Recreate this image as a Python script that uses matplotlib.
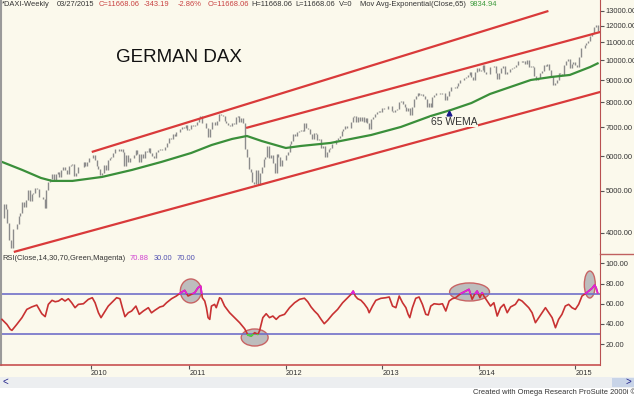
import numpy as np
import pandas as pd
import matplotlib
matplotlib.use("Agg")
import matplotlib.pyplot as plt
from matplotlib.patches import Ellipse, Rectangle
from matplotlib.lines import Line2D
from matplotlib.ticker import FixedLocator, NullLocator, FuncFormatter

plt.rcParams['font.family'] = ['Liberation Sans', 'DejaVu Sans']

# weekly DAX closes (Friday bars), one list per year
close_2009 = [4338, 4666, 4534, 4215, 3843, 3695, 4086, 4076, 4187, 4384, 4445, 4712,
              4597, 4769, 5022, 4738, 4929, 4940, 5077, 5052, 4840, 4838, 4781, 4576,
              5034, 5232, 5332, 5463, 5309, 5462, 5517, 5380, 5587, 5688, 5581, 5467,
              5711, 5743, 5758, 5415, 5490, 5688, 5663, 5686, 5817, 5709, 5831, 5957]
close_2010 = [5957, 6037, 5876, 5696, 5608, 5434, 5500, 5722, 5598, 5877, 5945, 5983,
              6120, 6235, 6250, 6180, 6259, 6135, 5716, 6056, 5830, 5946, 5938, 6050,
              6216, 6070, 5834, 6066, 5954, 6183, 6148, 6291, 6110, 6005, 5951, 6147,
              6215, 6250, 6208, 6211, 6304, 6432, 6612, 6601, 6754, 6703, 6822, 6849,
              6947, 7006, 6983, 7077, 6914]
close_2011 = [6948, 7076, 7062, 7102, 7216, 7371, 7426, 7185, 7178, 6982, 6664, 6947,
              7190, 7217, 7080, 7250, 7514, 7492, 7449, 7258, 7185, 7095, 7069, 7164,
              7121, 7419, 7420, 7220, 7344, 7159, 6236, 5997, 5602, 5537, 5246, 5189,
              5574, 5164, 5502, 5676, 5911, 5970, 6346, 5966, 6057, 5800, 5493, 6080,
              5987, 5702, 5878, 5898]
close_2012 = [6057, 6143, 6404, 6512, 6766, 6692, 6849, 6864, 6921, 6881, 7157, 6996,
              6947, 6775, 6583, 6801, 6762, 6562, 6579, 6271, 6339, 5978, 6130, 6229,
              6263, 6416, 6410, 6557, 6630, 6689, 6865, 6945, 7040, 6972, 6970, 7214,
              7412, 7451, 7216, 7398, 7233, 7380, 7203, 7363, 7163, 6950, 7309, 7405,
              7518, 7614, 7636, 7612]
close_2013 = [7776, 7715, 7702, 7857, 7833, 7652, 7593, 7661, 7708, 8004, 8059, 7913,
              7795, 7659, 7744, 7459, 7814, 8122, 8279, 8398, 8305, 8349, 8254, 8128,
              7789, 7959, 7806, 8212, 8331, 8403, 8410, 8368, 8391, 8416, 8104, 8275,
              8510, 8676, 8661, 8638, 8725, 8870, 9018, 9007, 9079, 9169, 9225, 9406,
              9173, 9006, 9400, 9589]
close_2014 = [9435, 9473, 9742, 9393, 9306, 9301, 9663, 9657, 9692, 9351, 9056, 9342,
              9588, 9695, 9315, 9409, 9402, 9556, 9581, 9630, 9768, 9943, 9987, 9912,
              9987, 9815, 10009, 9666, 9720, 9644, 9210, 9009, 9092, 9339, 9470, 9747,
              9691, 9799, 9490, 9195, 8788, 8850, 8988, 9326, 9291, 9252, 9732, 9980,
              10087, 9594, 9787, 9922]
close_2015 = [9764, 9648, 10167, 10649, 10694, 10846, 10963, 11050, 11401, 11551,
              11901, 12039, 11668]

# 65 week exponential average (week index, value)
ema_week = [0, 11, 21, 27, 38, 54, 70, 86, 102, 113, 124, 132, 140, 153, 161, 177,
            199, 215, 231, 242, 253, 263, 274, 285, 296, 306, 317, 321]
ema_val = [5830, 5585, 5354, 5270, 5270, 5383, 5585, 5830, 6113, 6377, 6585, 6690,
           6513, 6277, 6344, 6446, 6726, 7019, 7437, 7681, 7970, 8361, 8678, 9006,
           9150, 9250, 9650, 9835]

# RSI(14)
rsi_week = [0, 2.7, 4.5, 5.4, 8, 10.8, 13.4, 16, 18.8, 21.5, 23.3, 25, 27, 28.7, 30.5,
            32.3, 34, 35.8, 37.6, 39.4, 41.2, 43.9, 46.6, 48.7, 50.2, 52, 53.4, 55.6,
            57.3, 60, 61.8, 63.6, 64.9, 66.3, 68.1, 69.9, 72.2, 74, 76.2, 78.9, 80.6,
            82.4, 85.1, 86.9, 88.7, 91.4, 94, 96.4, 98.5, 100.3, 102.1, 103.9, 105.7,
            107.1, 108, 109.3, 110.2, 111.1, 112, 112.9, 114.6, 115.5, 117.3, 118.2,
            120, 122.7, 125.4, 128.1, 130.8, 132.6, 134.4, 136.2, 137.9, 138.8, 140.6,
            142.4, 144.2, 146, 147.8, 149.6, 152.3, 155, 157.7, 160.4, 163, 164.8,
            166.6, 168.4, 170.2, 172, 173.7, 175.5, 178.2, 180.9, 183.6, 186.3, 188.1,
            189.3, 190.4, 191.7, 193.5, 195.2, 197, 197.9, 199.7, 201.5, 204.2, 206.9,
            208.7, 210.5, 212.3, 214.1, 215.9, 217.7, 218.9, 219.8, 221.2, 223, 224.8,
            226.6, 228.4, 229.7, 231.1, 232.9, 235.6, 237.4, 239.2, 241, 242.7, 244.5,
            247.2, 249.9, 251.7, 253.4, 254.7, 256.1, 257.6, 258.8, 259.7, 261.5,
            263.3, 265.1, 266.9, 268.7, 270.5, 272.3, 274.1, 276.7, 278.5, 280.3,
            282.1, 283.9, 285.7, 287.5, 289.3, 291.1, 292.9, 294.7, 296.5, 298.3, 300,
            301.8, 303.6, 305.4, 307.2, 309, 310.8, 312.6, 314.4, 316.2, 318, 319.4,
            320.2, 321]
rsi_val = [44.5, 39.5, 34.6, 33.6, 39.5, 46.2, 54.4, 56.8, 58.7, 50.1, 47.2, 59.4, 63.4,
           62, 62.7, 65, 62.7, 65, 61, 56.1, 59.4, 60, 64.4, 66, 61, 51.1, 46.2, 52.8,
           57.7, 62.7, 66, 65, 56.1, 47.2, 51.1, 52.8, 57.7, 49.5, 52.8, 56.1, 51,
           53.5, 56.8, 57.7, 61, 65, 67.7, 71, 73.3, 67.7, 69.3, 71, 76, 77.6, 66,
           62.7, 56.1, 46.2, 44.5, 57.7, 59.4, 56.1, 66, 65, 57.7, 51.1, 46.2, 41.2,
           35.2, 28.9, 28, 31.3, 29.6, 32.9, 46.2, 50.1, 46.2, 47.8, 44.5, 47.8, 49.5,
           56.1, 61, 64.4, 65.5, 62, 56.8, 52.8, 49.5, 44.5, 40.2, 43.5, 49.5, 54.4,
           61, 66, 69.3, 72.6, 67.7, 65, 63.4, 60, 55.4, 51.1, 57.7, 63.4, 65.4, 66,
           66.7, 57.7, 56.1, 67.7, 61, 56.1, 49.5, 46.2, 56.1, 65.4, 66.7, 59.4, 49.5,
           48.8, 57.7, 60, 59.4, 60, 52.8, 62.7, 65, 66, 70, 72.6, 74.3, 64.4, 69.3,
           72.6, 66, 71, 67.7, 62.7, 57.7, 61, 47.8, 56.1, 59.4, 51.1, 56.8, 59.4,
           64.4, 62.7, 59.4, 56.1, 51.1, 41.2, 46.2, 51.1, 56.1, 51.1, 46.2, 36.2,
           44.5, 49.5, 57.7, 59.4, 56.1, 54.4, 59.4, 67.7, 70, 72.6, 75.3, 78.6, 76,
           70.9]

# trend channel end points (week index, price)
channel_top = ([48.4, 294.5], [6145, 12993])
channel_mid = ([131.6, 322.4], [6982, 11620])
channel_low = ([6.4, 322.4], [3614, 8452])

# highlighted RSI zones: centre week, centre value, width (weeks), height
rsi_zones = [(101.8, 72.7, 11.3, 23.8), (136.2, 26.5, 14.5, 16.9),
             (252.0, 71.7, 21.5, 17.9), (316.8, 79.1, 5.9, 26.8)]

wema_label = (240.7, 7560)
price_ticks = [4000, 5000, 6000, 7000, 8000, 9000, 10000, 11000, 12000, 13000]
rsi_ticks = [20, 40, 60, 80, 100]
year_labels = [2010, 2011, 2012, 2013, 2014, 2015]

dates = pd.date_range("2009-01-30", "2015-03-27", freq="W-FRI")
closes = np.array(close_2009 + close_2010 + close_2011 + close_2012 +
                  close_2013 + close_2014 + close_2015, dtype=float)
assert len(closes) == len(dates)
x = np.arange(len(closes))
prev = np.r_[closes[0], closes[:-1]]
year_weeks = [int(np.argmax(dates.year == y)) for y in year_labels]

BG = '#fbf9ec'
W, H = 634, 397
SMALL = 5.4


def box(l, t, r, b):
    return [l / W, 1 - b / H, (r - l) / W, (b - t) / H]


def ftext(px, py, s, **kw):
    fig.text(px / W, 1 - py / H, s, **kw)


fig = plt.figure(figsize=(W / 100, H / 100), dpi=100, facecolor=BG)
ax = fig.add_axes(box(1, 0, 600, 254), facecolor=BG)
ax2 = fig.add_axes(box(1, 254, 600, 365), facecolor=BG)
xlim = (-0.5, 322.3)

# price panel
ax.set_yscale('log')
ax.set_ylim(3575, 13772)
ax.set_xlim(*xlim)
ax.vlines(x, np.minimum(prev, closes), np.maximum(prev, closes), color='#8c8c8c', lw=1.0)
ax.plot(ema_week, ema_val, color='#3a8f3a', lw=1.6)
for cx, cy in (channel_top, channel_mid, channel_low):
    ax.plot(cx, cy, color='#d93a3a', lw=1.6, solid_capstyle='butt')
ax.plot(*wema_label, marker='^', color='#1a1a8c', ms=3.5)

ax.yaxis.tick_right()
ax.yaxis.set_major_locator(FixedLocator(price_ticks))
ax.yaxis.set_minor_locator(NullLocator())
ax.yaxis.set_major_formatter(FuncFormatter(lambda v, p: f"{v:.2f}"))
ax.set_xticks([])
for a in (ax, ax2):
    a.tick_params(axis='y', direction='out', length=3, width=0.8, color='#555555',
                  labelsize=SMALL, labelcolor='#333333', pad=1)
    a.spines['top'].set_visible(False)
    a.spines['left'].set_color('#9a9a9a')
    a.spines['left'].set_linewidth(1.5)
    a.spines['right'].set_color('#b85050')
ax.spines['bottom'].set_visible(False)

# RSI panel
ax2.set_xlim(*xlim)
ax2.set_ylim(-0.8, 109.4)
ax2.axhline(70, color='#7070c8', lw=1.2)
ax2.axhline(30, color='#7070c8', lw=1.2)
for zx, zy, zw, zh in rsi_zones:
    ax2.add_patch(Ellipse((zx, zy), zw, zh, facecolor='#bdbdbd', edgecolor='#c86464',
                          lw=1, zorder=1.5))
ax2.plot(rsi_week, rsi_val, color='#c83232', lw=1.2, zorder=3)
hi, = ax2.plot(rsi_week, rsi_val, color='#e020e0', lw=1.2, zorder=4)
hi.set_clip_path(Rectangle((xlim[0], 70), xlim[1] - xlim[0], 40, transform=ax2.transData))
lo, = ax2.plot(rsi_week, rsi_val, color='#40e040', lw=1.2, zorder=4)
lo.set_clip_path(Rectangle((xlim[0], 0), xlim[1] - xlim[0], 30, transform=ax2.transData))

ax2.yaxis.tick_right()
ax2.set_yticks(rsi_ticks)
ax2.yaxis.set_major_formatter(FuncFormatter(lambda v, p: f"{v:.2f}"))
ax2.set_xticks(year_weeks)
ax2.set_xticklabels([str(y) for y in year_labels])
for lbl in ax2.get_xticklabels():
    lbl.set_horizontalalignment('left')
ax2.tick_params(axis='x', direction='out', length=3, width=0.8, color='#555555',
                labelsize=SMALL, labelcolor='#333333', pad=0.5)
ax2.spines['bottom'].set_color('#c85050')
ax2.spines['bottom'].set_linewidth(1.2)

# panel separator in the scale area
fig.add_artist(Line2D([600 / W, 1], [1 - 254 / H] * 2, color='#c06060', lw=1))

# titles and header lines
ftext(179, 58, "GERMAN DAX", ha='center', va='center', fontsize=13.5, color='#111111')
ftext(454, 122, "65 WEMA", ha='center', va='center', fontsize=7.5, color='#333333',
      bbox=dict(facecolor=BG, edgecolor='none', pad=0.3))

hdr = [(2, "*DAXI-Weekly", '#333333'), (57, "03/27/2015", '#333333'),
       (99, "C=11668.06", '#c84040'), (144, "-343.19", '#c84040'),
       (178, "-2.86%", '#c84040'), (208, "O=11668.06", '#c84040'),
       (251, "H=11668.06", '#333333'), (295, "L=11668.06", '#333333'),
       (339, "V=0", '#333333'), (360, "Mov Avg-Exponential(Close,65)", '#333333'),
       (470, "9834.94", '#3c9a3c')]
for hx, s, c in hdr:
    ftext(hx, 5, s, ha='left', va='center', fontsize=SMALL, color=c)

rsi_hdr = [(2, "RSI(Close,14,30,70,Green,Magenta)", '#333333'), (130, "70.88", '#d040d0'),
           (154, "30.00", '#5050b0'), (177, "70.00", '#5050b0')]
for hx, s, c in rsi_hdr:
    ftext(hx, 258, s, ha='left', va='center', fontsize=SMALL, color=c)

# scroll bar and footer
fig.add_artist(Rectangle((0, 1 - 388 / H), 1, 11 / H, transform=fig.transFigure,
                         facecolor='#eceef0', edgecolor='none'))
fig.add_artist(Rectangle((0, 0), 1, 9 / H, transform=fig.transFigure,
                         facecolor='#ffffff', edgecolor='none'))
fig.add_artist(Rectangle((612 / W, 1 - 387 / H), 22 / W, 9 / H, transform=fig.transFigure,
                         facecolor='#c8d4e8', edgecolor='none'))
ftext(5, 382, "<", ha='center', va='center', fontsize=7, color='#22228a')
ftext(628, 382, ">", ha='center', va='center', fontsize=7, color='#22228a')
ftext(473, 392.5, "Created with Omega Research ProSuite 2000i \u00a9 1999", ha='left',
      va='center', fontsize=SMALL, color='#333333')

fig.savefig("out.png", dpi=100, facecolor=BG)
